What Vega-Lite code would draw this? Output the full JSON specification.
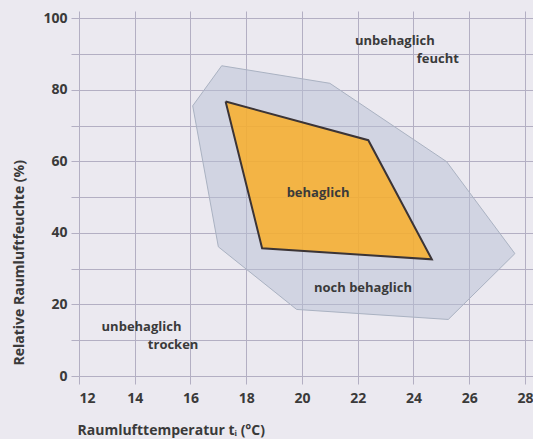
{
  "$schema": "https://vega.github.io/schema/vega-lite/v6.json",
  "width": 454,
  "height": 365,
  "autosize": {"type": "none"},
  "padding": {"left": 79, "top": 11, "right": 0, "bottom": 63},
  "background": "#ebe9f0",
  "config": {
    "view": {"stroke": null},
    "font": "Open Sans"
  },
  "datasets": {
    "outer": [
      {"i": 0, "t": 16.08, "rh": 75.5},
      {"i": 1, "t": 17.12, "rh": 86.7},
      {"i": 2, "t": 21.0, "rh": 81.8},
      {"i": 3, "t": 25.19, "rh": 59.9},
      {"i": 4, "t": 27.64, "rh": 34.2},
      {"i": 5, "t": 25.25, "rh": 15.8},
      {"i": 6, "t": 19.81, "rh": 18.6},
      {"i": 7, "t": 17.0, "rh": 36.1},
      {"i": 8, "t": 16.08, "rh": 75.5}
    ],
    "inner": [
      {"i": 0, "t": 17.26, "rh": 76.7},
      {"i": 1, "t": 22.38, "rh": 65.9},
      {"i": 2, "t": 24.66, "rh": 32.6},
      {"i": 3, "t": 18.57, "rh": 35.7},
      {"i": 4, "t": 17.26, "rh": 76.7}
    ],
    "labels": [
      {"t": 21.9, "rh": 93.7, "label": "unbehaglich"},
      {"t": 24.12, "rh": 88.6, "label": "feucht"},
      {"t": 19.45, "rh": 51.2, "label": "behaglich"},
      {"t": 20.43, "rh": 24.6, "label": "noch behaglich"},
      {"t": 12.81, "rh": 13.7, "label": "unbehaglich"},
      {"t": 14.47, "rh": 8.6, "label": "trocken"}
    ]
  },
  "encoding": {
    "x": {
      "field": "t",
      "type": "quantitative",
      "scale": {"domain": [12, 28.29], "nice": false, "zero": false},
      "axis": {
        "values": [12, 14, 16, 18, 20, 22, 24, 26, 28],
        "grid": true,
        "gridColor": "#b3afc3",
        "gridOpacity": 1,
        "gridWidth": 1,
        "domain": false,
        "tickColor": "#b3afc3",
        "tickSize": 8,
        "labelFont": "Open Sans",
        "labelFontWeight": "bold",
        "labelFontSize": 14,
        "labelColor": "#3a3a3a",
        "labelPadding": 7,
        "title": "Raumlufttemperatur tᵢ (°C)",
        "titleFont": "Open Sans",
        "titleFontWeight": "bold",
        "titleFontSize": 14,
        "titleColor": "#3a3a3a",
        "titleAlign": "left",
        "titleAnchor": null,
        "titleX": -2,
        "titleY": 58,
        "titleBaseline": "alphabetic"
      }
    },
    "y": {
      "field": "rh",
      "type": "quantitative",
      "scale": {"domain": [0, 102], "nice": false, "zero": false},
      "axis": {
        "values": [0, 10, 20, 30, 40, 50, 60, 70, 80, 90, 100],
        "labelExpr": "datum.value % 20 === 0 ? datum.label : ''",
        "grid": true,
        "gridColor": "#b3afc3",
        "gridOpacity": 1,
        "gridWidth": 1,
        "domain": false,
        "tickColor": "#b3afc3",
        "tickSize": 8,
        "labelFont": "Open Sans",
        "labelFontWeight": "bold",
        "labelFontSize": 14,
        "labelColor": "#3a3a3a",
        "labelPadding": 4,
        "title": "Relative Raumluftfeuchte (%)",
        "titleFont": "Open Sans",
        "titleFontWeight": "bold",
        "titleFontSize": 14,
        "titleColor": "#3a3a3a",
        "titleAngle": 270,
        "titleAlign": "left",
        "titleAnchor": null,
        "titleX": -60,
        "titleY": 354,
        "titleBaseline": "middle"
      }
    }
  },
  "layer": [
    {
      "data": {"name": "outer"},
      "mark": {"type": "line", "fill": "#b8c0d4", "fillOpacity": 0.5, "stroke": "#aab2c2", "strokeWidth": 1, "interpolate": "linear"},
      "encoding": {"order": {"field": "i", "type": "quantitative"}}
    },
    {
      "data": {"name": "inner"},
      "mark": {"type": "line", "fill": "#fbab1e", "fillOpacity": 0.8, "stroke": "#3b3436", "strokeWidth": 2, "strokeJoin": "miter", "interpolate": "linear"},
      "encoding": {"order": {"field": "i", "type": "quantitative"}}
    },
    {
      "data": {"name": "labels"},
      "mark": {"type": "text", "align": "left", "baseline": "middle", "font": "Open Sans", "fontWeight": "bold", "fontSize": 13, "color": "#3a3a3a"},
      "encoding": {"text": {"field": "label", "type": "nominal"}}
    }
  ]
}
